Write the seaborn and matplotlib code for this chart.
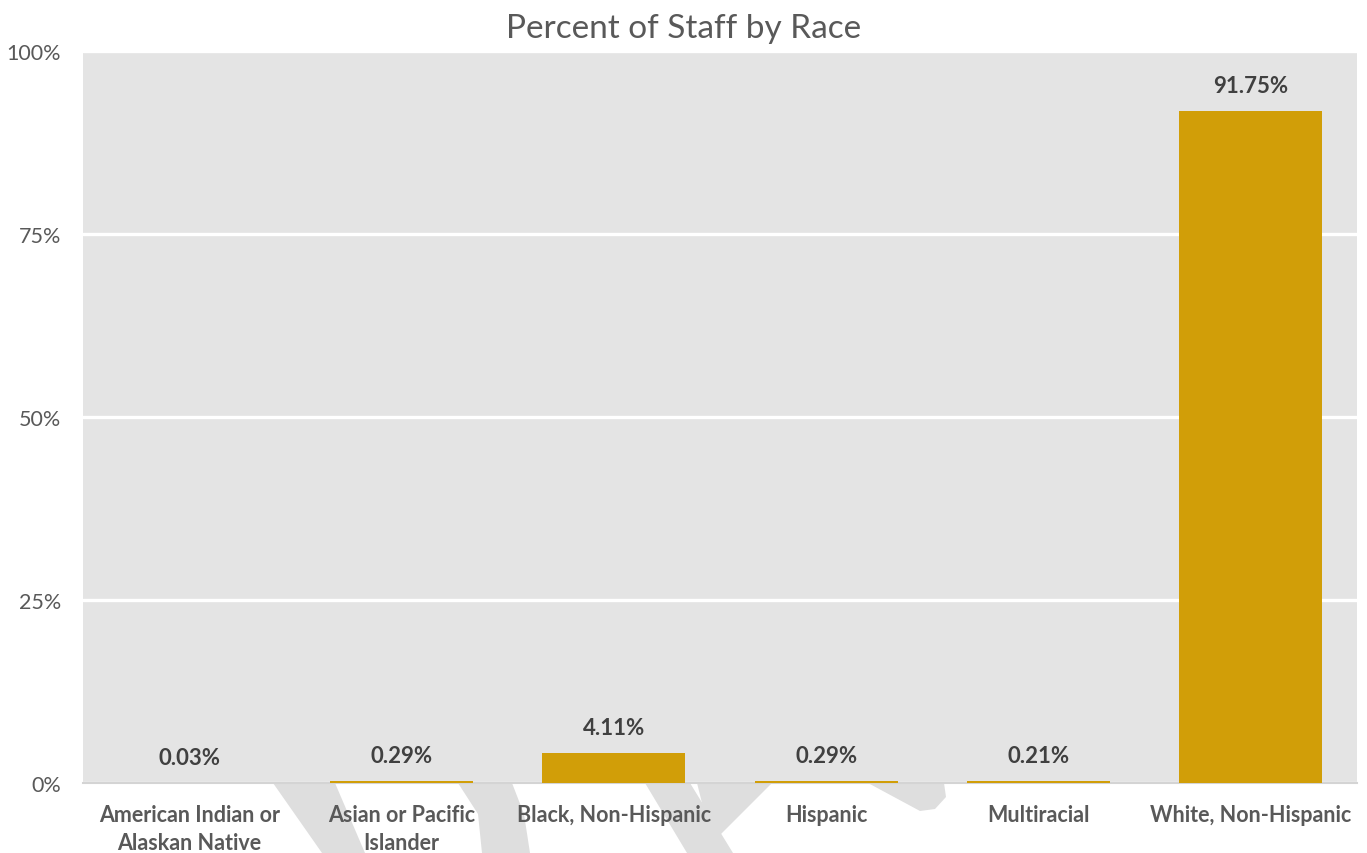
import matplotlib
matplotlib.use("Agg")
import matplotlib.pyplot as plt
import seaborn as sns
import pandas as pd
from matplotlib.patches import Polygon
from matplotlib.ticker import FuncFormatter

categories = ["American Indian or\nAlaskan Native", "Asian or Pacific\nIslander",
              "Black, Non-Hispanic", "Hispanic", "Multiracial", "White, Non-Hispanic"]
values = [0.03, 0.29, 4.11, 0.29, 0.21, 91.75]
value_labels = ["0.03%", "0.29%", "4.11%", "0.29%", "0.21%", "91.75%"]
yticks = [0, 25, 50, 75, 100]

sns.set_theme(style="white")
plt.rcParams['font.family'] = ['Lato', 'DejaVu Sans']

W, H = 1367, 854
fig = plt.figure(figsize=(W / 100, H / 100), dpi=100)
ax = fig.add_axes([83 / W, 1 - 784 / H, (1357 - 83) / W, (784 - 52) / H])

# decorative watermark strokes behind the plot (pixel coords)
def px(pts):
    return [(x / W, 1 - y / H) for x, y in pts]

wm = "#DEDEDE"
shapes = [
    [(273, 784), (335, 784), (365, 854), (322, 854)],
    [(458, 784), (512, 784), (524, 815), (530, 854), (482, 854), (478, 815)],
    [(645, 784), (690, 784), (733, 854), (687, 854)],
    [(697, 784), (772, 784), (718, 838), (706, 820)],
    [(868, 784), (944, 784), (946, 798), (935, 810), (920, 812)],
]
for s in shapes:
    fig.add_artist(Polygon(px(s), closed=True, transform=fig.transFigure,
                           facecolor=wm, edgecolor="none", zorder=-1))

df = pd.DataFrame({"cat": categories, "val": values})
ax.set_facecolor("#E4E4E4")
sns.barplot(data=df, x="cat", y="val", color="#D19E08", saturation=1,
            width=0.675, ax=ax, zorder=3, linewidth=0, edgecolor="none")
for p in ax.patches:
    p.set_clip_on(False)

ax.bar_label(ax.containers[0], labels=value_labels, padding=11,
             fontsize=16, fontweight="bold", color="#404040")

ax.set_ylim(0, 100)
ax.set_yticks(yticks)
ax.yaxis.set_major_formatter(FuncFormatter(lambda v, p: f"{int(v)}%"))
ax.yaxis.grid(True, color="white", linewidth=2.4, zorder=1)
ax.set_axisbelow(True)
for sp in ["top", "right", "left"]:
    ax.spines[sp].set_visible(False)
ax.spines["bottom"].set_color("#D4D4D4")
ax.spines["bottom"].set_linewidth(1.5)
ax.spines["bottom"].set_zorder(2)

ax.tick_params(axis="y", length=0, pad=16, labelsize=15.5, labelcolor="#595959")
ax.tick_params(axis="x", length=0, pad=15, labelsize=15.5, labelcolor="#595959")
for lbl in ax.get_xticklabels():
    lbl.set_fontweight("bold")
    lbl.set_linespacing(1.45)
ax.set_xlabel("")
ax.set_ylabel("")

fig.text(0.5, 1 - 29 / H, "Percent of Staff by Race", ha="center", va="center",
         fontsize=24, color="#595959")

fig.savefig("out.png", dpi=100)
